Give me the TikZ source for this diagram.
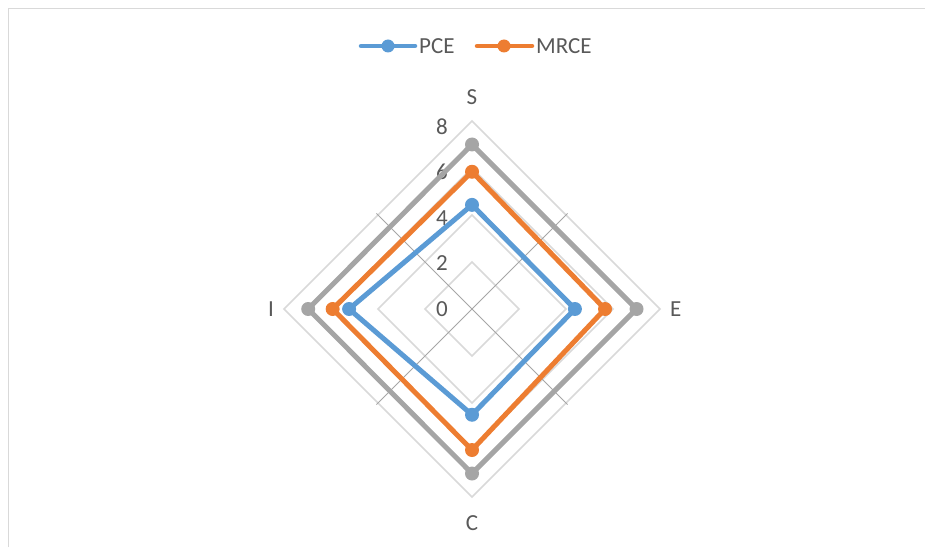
\documentclass[tikz,border=0pt]{standalone}
\usepackage{xcolor}
\usepackage{fontspec}
\setmainfont{Carlito}
\usepackage{tikz}
\usetikzlibrary{positioning}
\definecolor{pce}{RGB}{91, 155, 213}
\definecolor{mrce}{RGB}{237, 125, 49}
\definecolor{third}{RGB}{165, 165, 165}
\definecolor{gridgray}{RGB}{217, 217, 217}
\definecolor{spokegray}{RGB}{166, 166, 166}
\definecolor{txt}{RGB}{89, 89, 89}
\tikzstyle{txtlabel} = [text=txt, font=\fontsize{23}{23}\selectfont, inner sep=0pt]
\tikzstyle{ticklabel} = [txtlabel, anchor=east]
\tikzstyle{gridline} = [draw=gridgray, line width=1.5pt]
\tikzstyle{spoke} = [draw=spokegray, line width=1pt]
\tikzstyle{series} = [draw, line width=5pt, line join=round, line cap=round]
\tikzstyle{datadot} = [circle, minimum size=14pt, inner sep=0pt]

\begin{document}
\begin{tikzpicture}[x=1pt, y=1pt]
    \useasboundingbox (0,0) rectangle (925,547);
    \coordinate (frameBL) at (8.5,0);
    \coordinate (frameTR) at (925,538.5);
    \draw [gridline] (frameBL) |- (frameTR);

    % legend
    \coordinate (legPCEa) at (361,501);
    \coordinate (legPCEb) at (415,501);
    \coordinate (legMRCEa) at (477,501);
    \coordinate (legMRCEb) at (532,501);
    \path [series, pce, line width=4.5pt] (legPCEa) -- (legPCEb);
    \path [series, mrce, line width=4.5pt] (legMRCEa) -- (legMRCEb);
    \node [datadot, fill=pce, minimum size=13pt] (legPCE) at (388,501) {};
    \node [datadot, fill=mrce, minimum size=13pt] (legMRCE) at (504,501) {};
    \node [txtlabel, right=4pt of legPCEb] (txtPCE) {PCE};
    \node [txtlabel, right=4pt of legMRCEb] (txtMRCE) {MRCE};

    \coordinate (ctr) at (472,238);
    \begin{scope}[shift={(ctr)}, x=23.5pt, y=23.5pt]
        % grid and spokes
        \foreach \v in {2,4,6,8}
            \path [gridline] (0,\v) -- (\v,0) -- (0,-\v) -- (-\v,0) -- cycle;
        \foreach \a in {45,135,225,315}
            \path [spoke] (0,0) -- (\a:5.75);
        \foreach \v in {0,2,4,6,8}
            \node [ticklabel] (tick\v) at (-1.02,0.97*\v) {\v};

        % axis labels
        \node [txtlabel, anchor=south] (axS) at (0,8.68) {S};
        \node [txtlabel, anchor=west] (axE) at (8.42,0) {E};
        \node [txtlabel, anchor=north] (axC) at (0,-8.77) {C};
        \node [txtlabel, anchor=east] (axI) at (-8.42,0) {I};

        % data
        \coordinate (tS) at (0,7);
        \coordinate (tE) at (7,0);
        \coordinate (tC) at (0,-7);
        \coordinate (tI) at (-6.97,0);
        \coordinate (mS) at (0,5.84);
        \coordinate (mE) at (5.66,0);
        \coordinate (mC) at (0,-6);
        \coordinate (mI) at (-5.93,0);
        \coordinate (pS) at (0,4.43);
        \coordinate (pE) at (4.38,0);
        \coordinate (pC) at (0,-4.5);
        \coordinate (pI) at (-5.23,0);

        \path [series, pce] (pS) -- (pE) -- (pC) -- (pI) -- cycle;
        \path [series, mrce] (mS) -- (mE) -- (mC) -- (mI) -- cycle;
        \path [series, third] (tS) -- (tE) -- (tC) -- (tI) -- cycle;
        \foreach \k in {S,E,C,I} {
            \node [datadot, fill=pce] at (p\k) {};
            \node [datadot, fill=mrce] at (m\k) {};
            \node [datadot, fill=third] at (t\k) {};
        }
    \end{scope}
\end{tikzpicture}
\end{document}
